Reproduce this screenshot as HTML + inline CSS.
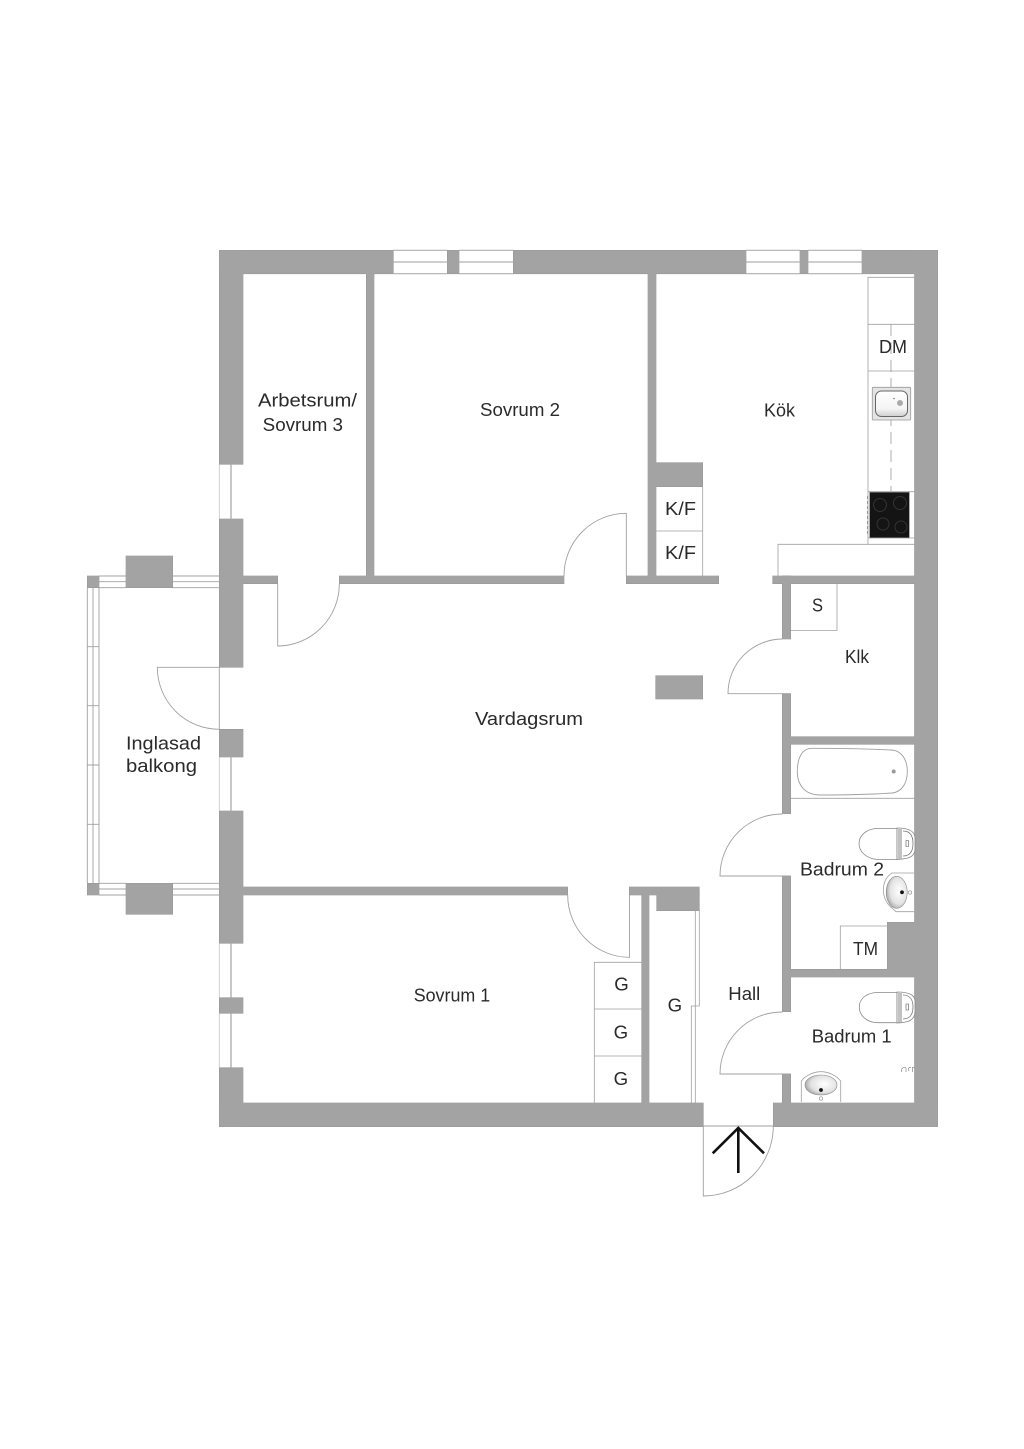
<!DOCTYPE html>
<html><head><meta charset="utf-8"><style>
html,body{margin:0;padding:0;background:#fff}
svg{display:block}
text{font-family:"Liberation Sans",sans-serif;font-size:18.5px;fill:#2a2a2a}
.l{fill:none;stroke:#a0a0a0;stroke-width:.9}
.t{fill:none;stroke:#a0a0a0;stroke-width:.8}
</style></head><body>
<svg width="1024" height="1449" viewBox="0 0 1024 1449" xmlns="http://www.w3.org/2000/svg">
<defs>
<radialGradient id="sg" cx=".6" cy=".45" r=".7"><stop offset="0" stop-color="#fff"/><stop offset=".6" stop-color="#e2e2e2"/><stop offset="1" stop-color="#8c8c8c"/></radialGradient>
<linearGradient id="sk" x1="0" y1="0" x2="1" y2="1"><stop offset="0" stop-color="#ddd"/><stop offset="1" stop-color="#aaa"/></linearGradient>
<linearGradient id="si" x1="0" y1="0" x2="0" y2="1"><stop offset="0" stop-color="#fff"/><stop offset=".7" stop-color="#f4f4f4"/><stop offset="1" stop-color="#cfcfcf"/></linearGradient>
<g id="w">
<rect x="219.3" y="250.3" width="23.700" height="214"/><rect x="219.3" y="519" width="23.700" height="148.3"/><rect x="219.3" y="729.3" width="23.700" height="27.700"/><rect x="219.3" y="811" width="23.700" height="132.3"/><rect x="219.3" y="997.7" width="23.700" height="15.6"/><rect x="219.3" y="1067.7" width="23.700" height="59"/>
<rect x="219.3" y="250.3" width="174" height="23.5"/><rect x="447.3" y="250.3" width="11.7" height="23.5"/><rect x="513.3" y="250.3" width="232.7" height="23.5"/><rect x="800" y="250.3" width="8" height="23.5"/><rect x="862" y="250.3" width="75.700" height="23.5"/>
<rect x="914.5" y="250.3" width="23.2" height="876.4"/>
<rect x="219.3" y="1103" width="484" height="23.7"/><rect x="773.3" y="1103" width="164.4" height="23.7"/>
<rect x="366.3" y="273" width="7.700" height="303"/><rect x="648" y="273" width="8" height="303"/><rect x="656" y="462.7" width="46.7" height="24"/>
<rect x="243" y="576" width="34.7" height="7.7"/><rect x="339.3" y="576" width="224.7" height="7.7"/><rect x="626.3" y="576" width="92.4" height="7.7"/><rect x="772.7" y="576" width="142" height="7.7"/>
<rect x="782.3" y="576" width="8.4" height="63"/><rect x="782.3" y="693.7" width="8.4" height="120"/><rect x="782.3" y="876" width="8.4" height="135.7"/><rect x="782.3" y="1074" width="8.4" height="30"/>
<rect x="790" y="736.7" width="125" height="7.6"/><rect x="790" y="969.3" width="125" height="7.7"/><rect x="887.3" y="922.3" width="28" height="47.5"/>
<rect x="655.7" y="675.7" width="47" height="23.3"/>
<rect x="243" y="887" width="324.7" height="8"/><rect x="629.3" y="887" width="70" height="8"/><rect x="641.7" y="894" width="7.3" height="210"/><rect x="656.7" y="894" width="42.6" height="16.7"/>
<rect x="126" y="556" width="46.7" height="31.7"/><rect x="126" y="883.3" width="46.7" height="31"/>
<rect x="87.3" y="576" width="11.7" height="11.7"/><rect x="87.3" y="883.3" width="11.7" height="11.7"/>
</g>
</defs>
<rect width="1024" height="1449" fill="#fff"/>

<!-- balcony lines -->
<path class="l" d="M99 576H126M172.7 576H219M99 581.7H126M172.7 581.7H219M99 587.7H126M172.7 587.7H219M99 883.3H126M172.7 883.3H219M99 889H126M172.7 889H219M99 895H126M172.7 895H219"/>
<path class="l" d="M87.3 588V883M93 588V883M99 588V883M87.3 646.7H99M87.3 705.7H99M87.3 765H99M87.3 824.3H99"/>

<!-- walls -->
<use href="#w" fill="#a3a3a3" stroke="#8e8e8e" stroke-width=".6"/>
<use href="#w" fill="#a3a3a3"/>

<!-- windows -->
<path d="M393.3 250.3H447.3M393.3 262H447.3M393.3 273.7H447.3M459 250.3H513.3M459 262H513.3M459 273.7H513.3M746 250.3H800M746 262H800M746 273.7H800M808 250.3H862M808 262H862M808 273.7H862" fill="none" stroke="#b0b0b0" stroke-width="1.2"/>
<path d="M231 464.3V519M231 757V811M231 943.3V997.7M231 1013.3V1067.7" fill="none" stroke="#b0b0b0" stroke-width="1.4"/>
<path d="M219.3 464.3V519M219.3 757V811M219.3 943.3V997.7M219.3 1013.3V1067.7" fill="none" stroke="#c4c4c4" stroke-width=".8"/>
<path class="l" d="M219.3 667.3V729.3M703.3 1126H773.3"/>

<!-- doors -->
<path class="l" d="M277.7 584V646A62 62 0 0 0 339.3 584"/>
<path class="l" d="M626.3 576V513.3A62.5 62.5 0 0 0 564 576"/>
<path class="l" d="M790 693.7H728A54.5 54.5 0 0 1 782.3 639"/>
<path class="l" d="M790 876H720A62 62 0 0 1 782.3 814"/>
<path class="l" d="M790 1074H720A62 62 0 0 1 782.3 1012"/>
<path class="l" d="M567.7 895A62 62 0 0 0 629.5 957.3V895"/>
<path class="l" d="M219.3 667.3H157.3A62 62 0 0 0 219.3 729.3"/>
<path class="l" d="M703.3 1126V1196A70 70 0 0 0 773.3 1126"/>

<!-- entrance arrow -->
<path d="M738.3 1173V1128M712.7 1153.3L738.3 1128L764 1153.3" fill="none" stroke="#111" stroke-width="2.6"/>

<!-- fixtures boxes -->
<path class="t" d="M656 531H702.7M702.7 487V576"/>
<path class="t" d="M915 277.3H868V544.3M868 324.3H915M868 371H915M868 491.7H915M868 538H915"/>
<path class="t" d="M778 576V544.3H915"/>
<path d="M891 324V491" fill="none" stroke="#999" stroke-width=".8" stroke-dasharray="12 6"/>
<path class="t" d="M791 630.5H837V584"/>
<path class="t" d="M791 798.3H915"/>
<path class="t" d="M840.3 969V926H887.3"/>
<path class="t" d="M594.3 1103V962.3H642M594.3 1009H642M594.3 1056H642"/>
<path class="t" d="M699.3 910V1006H691.3V1103M695.3 910V1103"/>

<!-- sink kitchen -->
<rect x="872.3" y="387.3" width="38.4" height="32.7" rx="1" fill="#e4e4e4" stroke="#999" stroke-width=".8"/>
<rect x="875.5" y="391" width="32" height="25.5" rx="6" fill="url(#si)" stroke="#666" stroke-width="1"/>
<circle cx="900" cy="403" r="3" fill="#aaa"/><circle cx="894" cy="398.5" r=".8" fill="#777"/>

<!-- stove -->
<rect x="869.7" y="492.3" width="39.6" height="45.4" fill="#141414" stroke="#777" stroke-width=".6"/>
<g fill="none" stroke="#333" stroke-width="1"><circle cx="880" cy="505" r="6.5"/><circle cx="900" cy="503" r="6.5"/><circle cx="883" cy="524" r="6"/><circle cx="901" cy="527" r="6"/></g>
<path d="M867.5 496V535" stroke="#888" stroke-width=".8" stroke-dasharray="3 2"/>

<!-- bathtub -->
<path d="M812 748.3C840 748.3 870 749 892 750C902 751 907.3 760 907.3 771.5C907.3 783 902 792 892 793C870 794.500 840 795 820 795C805 795 797.300 785 797.300 771.5C797.300 758 802 748.300 812 748.300Z" class="l"/>
<circle cx="893.700" cy="771.500" r="2" fill="#999"/>

<!-- toilets -->
<g fill="#fff" stroke="#888" stroke-width=".8">
<path d="M897 828.5H878C866 828.5 859 836 859 843.500C859 851 866 859 878 859.500H897Z"/>
<path d="M897 828V859.500C904 859 915 859 915 849V838C915 829 904 828 897 828Z"/>
<path d="M901 829V858.500M899 829V859" fill="none" stroke="#666"/>
<path d="M903 831C910 831 913 836 913 843.500C913 851 910 856 903 856" fill="none" stroke="#777" stroke-width=".8"/>
<path d="M906 840.500H908.500V846.500H906Z" fill="none" stroke="#555" stroke-width=".6"/>
</g>
<g fill="#fff" stroke="#888" stroke-width=".8">
<path d="M897 992.500H878C866 992.500 859.300 999 859.300 1007C859.300 1015 866 1022.500 878 1022.700H897Z"/>
<path d="M897 992V1023C904 1022.500 915 1022 915 1012V1001C915 993 904 992 897 992Z"/>
<path d="M901 993V1022M899 993V1022.500" fill="none" stroke="#666"/>
<path d="M903 995C910 995 913 1000 913 1007C913 1014 910 1019 903 1019" fill="none" stroke="#777" stroke-width=".8"/>
<path d="M906 1004H908.500V1010H906Z" fill="none" stroke="#555" stroke-width=".6"/>
</g>

<!-- sink badrum 2 -->
<path class="t" d="M914 873H892C880 880 881 900 892 908L896 911.700H914"/>
<ellipse cx="896.700" cy="892.300" rx="10.500" ry="16" fill="url(#sg)" stroke="#888" stroke-width=".6"/>
<circle cx="902" cy="892.300" r="1.900" fill="#111"/><circle cx="910" cy="892.500" r="1.700" fill="#fff" stroke="#888" stroke-width=".6"/>

<!-- sink badrum 1 -->
<path class="t" d="M801.300 1102V1081C806 1075 814 1071.700 821 1071.700C828 1071.700 836 1075 840.700 1081V1102"/>
<ellipse cx="821" cy="1085" rx="16" ry="10" fill="url(#sg)" stroke="#888" stroke-width=".6"/>
<circle cx="821" cy="1090" r="1.900" fill="#111"/><circle cx="821" cy="1098.500" r="1.700" fill="#fff" stroke="#888" stroke-width=".6"/>

<path d="M901.500 1072C901 1067.500 904 1067 906 1067.500M906 1072V1068M909 1071C907.500 1068 909.500 1067 911 1067.500M912.500 1072V1067.500H914.500" fill="none" stroke="#888" stroke-width=".7"/>

<!-- labels -->
<text x="258" y="406.700" textLength="99" lengthAdjust="spacingAndGlyphs">Arbetsrum/</text>
<text x="262.700" y="431" textLength="80.300" lengthAdjust="spacingAndGlyphs">Sovrum 3</text>
<text x="480" y="416" textLength="80" lengthAdjust="spacingAndGlyphs">Sovrum 2</text>
<text x="764" y="416.700" textLength="31" lengthAdjust="spacingAndGlyphs">Kök</text>
<text x="879" y="353" textLength="28" lengthAdjust="spacingAndGlyphs">DM</text>
<text x="665" y="515" textLength="31" lengthAdjust="spacingAndGlyphs">K/F</text>
<text x="665" y="559" textLength="31" lengthAdjust="spacingAndGlyphs">K/F</text>
<text x="812" y="611.700" textLength="11" lengthAdjust="spacingAndGlyphs">S</text>
<text x="845" y="663" textLength="24" lengthAdjust="spacingAndGlyphs">Klk</text>
<text x="475" y="725" textLength="108" lengthAdjust="spacingAndGlyphs">Vardagsrum</text>
<text x="126" y="749.300" textLength="75" lengthAdjust="spacingAndGlyphs">Inglasad</text>
<text x="126" y="772" textLength="71" lengthAdjust="spacingAndGlyphs">balkong</text>
<text x="800" y="875.700" textLength="84" lengthAdjust="spacingAndGlyphs">Badrum 2</text>
<text x="853" y="955" textLength="25" lengthAdjust="spacingAndGlyphs">TM</text>
<text x="667.700" y="1011.700" textLength="14.500" lengthAdjust="spacingAndGlyphs">G</text>
<text x="728.300" y="1000" textLength="32" lengthAdjust="spacingAndGlyphs">Hall</text>
<text x="811.700" y="1042.700" textLength="80" lengthAdjust="spacingAndGlyphs">Badrum 1</text>
<text x="413.700" y="1001.700" textLength="76.500" lengthAdjust="spacingAndGlyphs">Sovrum 1</text>
<text x="614.300" y="990.700" textLength="14.500" lengthAdjust="spacingAndGlyphs">G</text>
<text x="613.700" y="1038.300" textLength="14.500" lengthAdjust="spacingAndGlyphs">G</text>
<text x="613.700" y="1085" textLength="14.500" lengthAdjust="spacingAndGlyphs">G</text>
</svg>
</body></html>
